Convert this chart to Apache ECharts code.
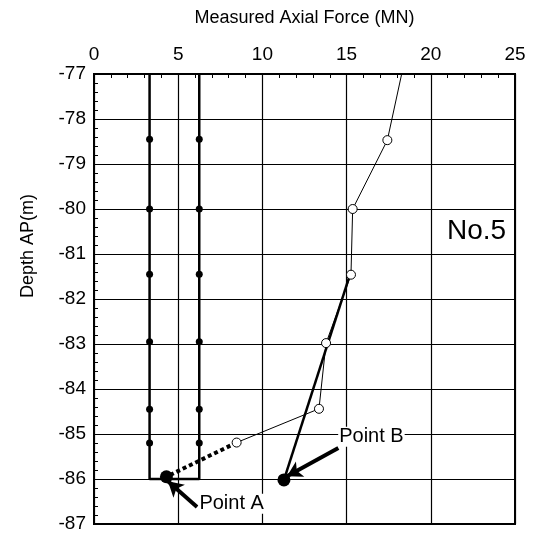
<!DOCTYPE html>
<html>
<head>
<meta charset="utf-8">
<script src="https://cdn.jsdelivr.net/npm/echarts@6/dist/echarts.min.js"></script>
<style>html,body{margin:0;padding:0;background:#fff}#c{width:533px;height:538px}</style>
</head>
<body>
<div id="c"></div>
<script>
// Axis ranges / ticks
var xMin = 0, xMax = 25, xStep = 5;
var yMin = -87, yMax = -77, yStep = 1;

// Pile (design) lines
var pileLeftX = 3.3;
var pileRightX = 6.25;
var pileTop = -77;
var pileBottom = -86;
var gaugeDepths = [-78.45, -80, -81.45, -82.95, -84.45, -85.2];

// Measured axial force (open circles)
var measuredForce = [18.27, 17.42, 15.36, 15.26, 13.78, 13.36, 8.47];
var measuredDepth = [-77, -78.47, -80, -81.46, -82.98, -84.44, -85.19];

// Point A (extrapolated, dotted) and Point B (thick line)
var pointA = [4.3, -85.95];
var pointB = [11.28, -86.02];
var pointBFrom = [15.2, -81.46];

// Annotation arrows: [tail, tip]
var arrowA = [[6.12, -86.62], [4.39, -86.05]];
var arrowB = [[14.51, -85.31], [11.46, -85.94]];
var labelAPos = [6.2, -86.55];
var labelBPos = [14.5, -85.06];

var pileLine = [[pileLeftX, pileTop], [pileLeftX, pileBottom], [pileRightX, pileBottom], [pileRightX, pileTop]];
var gaugeDots = [];
gaugeDepths.forEach(function (d) { gaugeDots.push([pileLeftX, d]); gaugeDots.push([pileRightX, d]); });
var measured = measuredForce.map(function (f, i) {
  var it = { value: [f, measuredDepth[i]] };
  if (i === 0) it.symbol = 'none';
  return it;
});

var FONT = 'Liberation Sans, Arial, sans-serif';
var chart = echarts.init(document.getElementById('c'), null, { renderer: 'canvas' });
chart.setOption({
  animation: false,
  backgroundColor: '#fff',
  grid: { left: 94, right: 18, top: 74, bottom: 14, show: true, borderColor: '#000', borderWidth: 2, backgroundColor: 'transparent' },
  xAxis: {
    type: 'value', position: 'top', min: xMin, max: xMax, interval: xStep,
    name: 'Measured Axial Force (MN)', nameLocation: 'middle', nameGap: 47,
    nameTextStyle: { fontFamily: FONT, fontSize: 18, color: '#000' },
    axisLine: { show: true, lineStyle: { color: '#000', width: 2 } },
    axisTick: { show: true, inside: true, length: 5, lineStyle: { color: '#000' } },
    minorTick: { show: true, splitNumber: 5, length: 4, lineStyle: { color: '#000' } },
    axisLabel: { fontFamily: FONT, fontSize: 19, color: '#000', margin: 10 },
    splitLine: { show: true, lineStyle: { color: '#000', width: 1.2 } }
  },
  yAxis: {
    type: 'value', min: yMin, max: yMax, interval: yStep,
    axisLine: { show: true, lineStyle: { color: '#000', width: 2 } },
    axisTick: { show: true, inside: true, length: 5, lineStyle: { color: '#000' } },
    minorTick: { show: true, splitNumber: 5, length: 4, lineStyle: { color: '#000' } },
    axisLabel: { fontFamily: FONT, fontSize: 19, color: '#000', margin: 8 },
    splitLine: { show: true, lineStyle: { color: '#000', width: 1.2 } }
  },
  graphic: [
    { type: 'text', left: 447, top: 217, style: { text: 'No.5', font: '28px ' + FONT, fill: '#000' } },
    { type: 'text', x: 19, y: 298, rotation: Math.PI / 2, style: { text: 'Depth AP(m)', font: '18px ' + FONT, fill: '#000' } }
  ],
  series: [
    { type: 'line', data: pileLine, symbol: 'none', lineStyle: { color: '#000', width: 2.5 }, z: 3 },
    { type: 'scatter', data: gaugeDots, symbol: 'circle', symbolSize: 7, itemStyle: { color: '#000', opacity: 1 }, z: 4 },
    { type: 'line', data: [pointBFrom, pointB], symbol: 'none', lineStyle: { color: '#000', width: 2.5 }, z: 3 },
    { type: 'line', data: [[measuredForce[6], measuredDepth[6]], pointA], symbol: 'none', lineStyle: { color: '#000', width: 4, type: [4, 3] }, z: 3 },
    { type: 'line', data: measured, symbol: 'circle', symbolSize: 9, itemStyle: { color: '#fff', borderColor: '#000', borderWidth: 1 }, lineStyle: { color: '#000', width: 1 }, z: 5 },
    { type: 'scatter', data: [pointA, pointB], symbol: 'circle', symbolSize: 13, itemStyle: { color: '#000', opacity: 1 }, z: 6,
      markLine: {
        silent: true, symbol: ['none', 'arrow'], symbolSize: [13, 15], animation: false,
        lineStyle: { color: '#000', width: 4, type: 'solid', opacity: 1 }, label: { show: false },
        data: [
          [{ coord: arrowA[0] }, { coord: arrowA[1] }],
          [{ coord: arrowB[0] }, { coord: arrowB[1] }]
        ]
      }
    },
    { type: 'scatter', symbolSize: 0, z: 7, itemStyle: { opacity: 1 },
      data: [
        { value: labelAPos, name: 'Point A' },
        { value: labelBPos, name: 'Point B' }
      ],
      label: { show: true, position: 'right', distance: 0, formatter: '{b}', fontFamily: FONT, fontSize: 20, color: '#000', opacity: 1, backgroundColor: '#fff', padding: [0, 1] }
    }
  ]
});
</script>
</body>
</html>
